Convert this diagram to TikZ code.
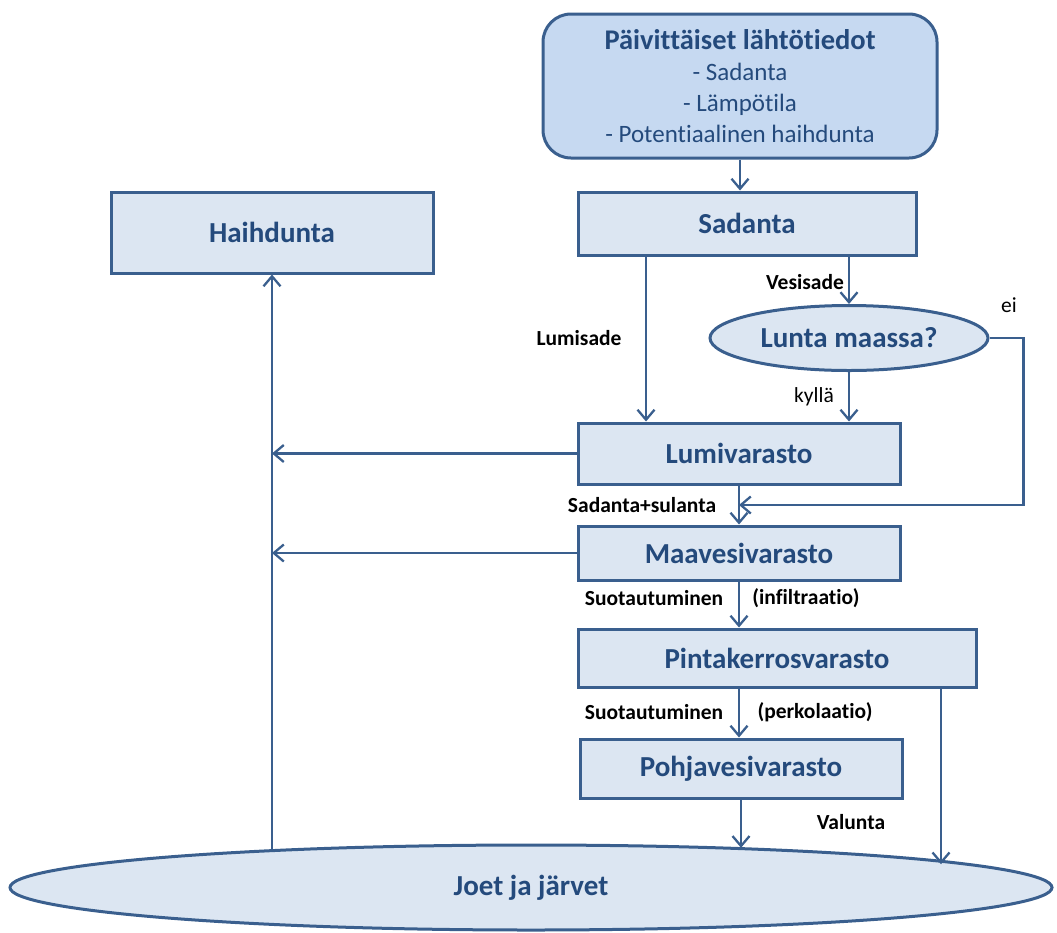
\documentclass[tikz,border=0pt]{standalone}
\usepackage{fontspec}
\setmainfont{Carlito}[RawFeature={-liga;-clig;-calt;-dlig}]
\usetikzlibrary{arrows.meta,shapes.geometric,calc}
\definecolor{edge}{RGB}{58,95,142}
\definecolor{boxfill}{RGB}{220,230,242}
\definecolor{topfill}{RGB}{198,217,241}
\definecolor{ink}{RGB}{36,74,124}
\begin{document}
\begin{tikzpicture}[x=1pt,y=-1pt,
  store/.style={draw=edge, line width=3pt, fill=boxfill, text=ink,
    font=\fontsize{29}{34}\selectfont\bfseries, inner sep=0pt},
  oval/.style={store, ellipse},
  arr/.style={draw=edge, line width=2.3pt,
    -{Straight Barb[length=10pt,width=17pt,line width=2.3pt]}},
  lbl/.style={font=\fontsize{21.5}{25}\selectfont\bfseries, text=black, inner sep=0pt},
  lblr/.style={font=\fontsize{21.5}{25}\selectfont, text=black, inner sep=0pt}]
\useasboundingbox (0,0) rectangle (1057,932);

% boxes and ovals
\node[store, rounded corners=28pt, fill=topfill, minimum width=394pt, minimum height=144pt,
  align=center, font=\fontsize{25}{31}\selectfont] (top) at (740,86)
  {{\fontsize{28.5}{31}\selectfont\bfseries Päivittäiset lähtötiedot}\\
   - Sadanta\\ - Lämpötila\\ - Potentiaalinen haihdunta};
\node[store, minimum width=338pt, minimum height=63pt] (sadanta) at (747,223.5) {Sadanta};
\node[store, minimum width=322pt, minimum height=81pt] (haih) at (272,232.5) {Haihdunta};
\node[oval, minimum width=278pt, minimum height=65pt] (lunta) at (849,338) {Lunta maassa?};
\node[store, minimum width=322pt, minimum height=61pt] (lumi) at (739,453.5) {Lumivarasto};
\node[store, minimum width=322pt, minimum height=54pt] (maave) at (739,553) {Maavesivarasto};
\node[store, minimum width=398pt, minimum height=58pt] (pinta) at (777,658) {Pintakerrosvarasto};
\node[store, minimum width=322pt, minimum height=59pt] (pohja) at (741,768.5) {Pohjavesivarasto};
\node[oval, minimum width=1042pt, minimum height=85pt] (joet) at (531,887.5) {Joet ja järvet};

% helper columns
\coordinate (snowcol) at (646,0);
\coordinate (runcol) at (941,0);
\coordinate (merge) at ($(lumi.south)!0.5!(maave.north)$);

% connectors
\draw[arr] (top.south) -- (top.south |- sadanta.north);
\draw[arr] (sadanta.south -| snowcol) -- (lumi.north -| snowcol);
\draw[arr] (lunta.north |- sadanta.south) -- (lunta.north);
\draw[arr] (lunta.south) -- (lunta.south |- lumi.north);
\draw[arr] (lunta.east) -- ++(34,0) |- (merge);
\draw[arr] (lumi.south) -- (maave.north);
\draw[arr] (lumi.west) -- (lumi.west -| haih.south);
\draw[arr] (maave.west) -- (maave.west -| haih.south);
\draw[arr] (haih.south |- joet.171.9) -- (haih.south);
\draw[arr] (maave.south) -- (maave.south |- pinta.north);
\draw[arr] (pinta.south -| maave.south) -- (pohja.north -| maave.south);
\draw[arr] (pohja.south) -- (pohja.south |- joet.10.5);
\draw[arr] (pinta.south -| runcol) -- (runcol |- joet.3.66);

% labels
\node[lbl] (l1) at (579,338) {Lumisade};
\node[lbl] (l2) at (805,282) {Vesisade};
\node[lblr] (l3) at (814,397) {kyllä};
\node[lblr] (l4) at (1009,305) {ei};
\node[lbl] (l5) at (642,505) {Sadanta+sulanta};
\node[lbl] (l6) at (654,598) {Suotautuminen};
\node[lbl] (l7) at (806,598) {(infiltraatio)};
\node[lbl] (l8) at (654,712) {Suotautuminen};
\node[lbl] (l9) at (815,712) {(perkolaatio)};
\node[lbl] (l10) at (851,822) {Valunta};
\end{tikzpicture}
\end{document}
